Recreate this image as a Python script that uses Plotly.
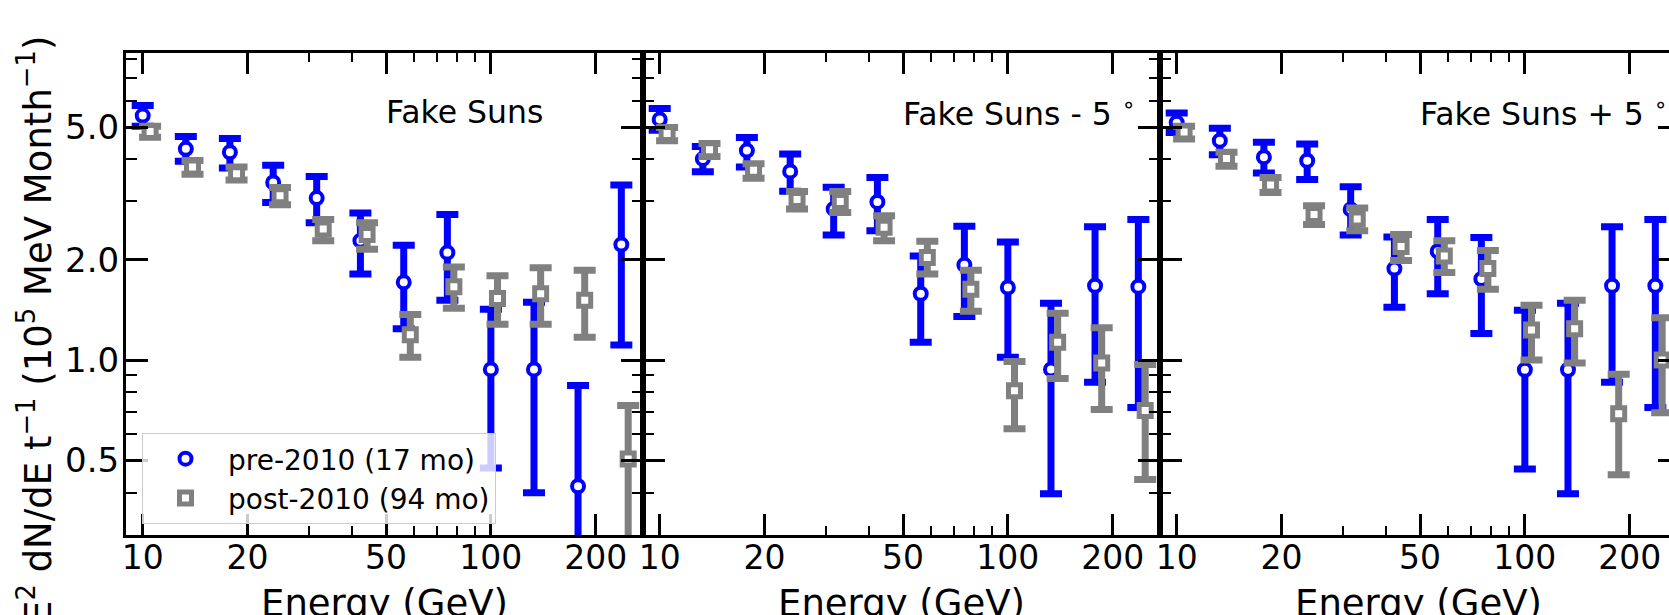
import plotly.graph_objects as go

# ---------------- data ----------------
E_pre = [10.0, 13.3, 17.8, 23.7, 31.6, 42.2, 56.2, 75.0, 100.0, 133.0, 178.0, 237.0]
E_post = [10.5, 13.9, 18.6, 24.8, 33.0, 44.1, 58.7, 78.3, 104.5, 139.0, 186.0, 248.0]

panel_titles = ["Fake Suns", "Fake Suns - 5 <sup>∘</sup>", "Fake Suns + 5 <sup>∘</sup>"]

# panel 1: Fake Suns
p1_pre = [5.41, 4.30, 4.20, 3.41, 3.06, 2.28, 1.71, 2.10, 0.937, 0.937, 0.418, 2.22]
p1_pre_hi = [5.80, 4.68, 4.62, 3.84, 3.55, 2.76, 2.21, 2.73, 1.42, 1.49, 0.838, 3.35]
p1_pre_lo = [5.03, 3.95, 3.77, 2.97, 2.58, 1.81, 1.24, 1.51, 0.474, 0.40, 0.15, 1.11]
p1_post = [4.85, 3.79, 3.62, 3.11, 2.47, 2.38, 1.19, 1.66, 1.53, 1.58, 1.51, 0.505]
p1_post_hi = [5.03, 3.97, 3.79, 3.29, 2.64, 2.58, 1.37, 1.90, 1.79, 1.89, 1.86, 0.73]
p1_post_lo = [4.66, 3.61, 3.47, 2.92, 2.28, 2.15, 1.02, 1.43, 1.28, 1.28, 1.17, 0.15]

# panel 2: Fake Suns - 5 deg
p2_pre = [5.27, 4.01, 4.25, 3.68, 2.84, 2.98, 1.58, 1.93, 1.65, 0.937, 1.67, 1.66]
p2_pre_hi = [5.68, 4.37, 4.65, 4.15, 3.30, 3.53, 2.05, 2.52, 2.26, 1.48, 2.51, 2.64]
p2_pre_lo = [4.89, 3.67, 3.79, 3.21, 2.37, 2.44, 1.13, 1.35, 1.02, 0.397, 0.857, 0.72]
p2_post = [4.78, 4.27, 3.71, 3.03, 2.99, 2.50, 2.03, 1.63, 0.808, 1.13, 0.98, 0.706]
p2_post_hi = [4.98, 4.46, 3.88, 3.20, 3.20, 2.71, 2.27, 1.86, 0.99, 1.38, 1.25, 0.97]
p2_post_lo = [4.55, 4.08, 3.51, 2.84, 2.77, 2.28, 1.81, 1.40, 0.622, 0.88, 0.71, 0.438]

# panel 3: Fake Suns + 5 deg
p3_pre = [5.15, 4.55, 4.06, 3.96, 2.83, 1.88, 2.12, 1.75, 0.935, 0.935, 1.67, 1.67]
p3_pre_hi = [5.51, 4.96, 4.50, 4.45, 3.31, 2.34, 2.64, 2.33, 1.41, 1.48, 2.51, 2.64]
p3_pre_lo = [4.81, 4.13, 3.64, 3.48, 2.37, 1.44, 1.58, 1.20, 0.471, 0.397, 0.857, 0.72]
p3_post = [4.83, 4.02, 3.35, 2.73, 2.65, 2.19, 2.05, 1.88, 1.23, 1.24, 0.69, 1.00]
p3_post_hi = [5.03, 4.20, 3.53, 2.90, 2.86, 2.38, 2.28, 2.13, 1.46, 1.51, 0.906, 1.34]
p3_post_lo = [4.60, 3.81, 3.18, 2.55, 2.44, 1.99, 1.83, 1.63, 1.00, 0.98, 0.453, 0.695]

x_tickvals = [10, 20, 50, 100, 200]
x_ticktext = ["10", "20", "50", "100", "200"]
x_minor = [30, 40, 60, 70, 80, 90]
y_tickvals = [0.5, 1.0, 2.0, 5.0]
y_ticktext = ["0.5", "1.0", "2.0", "5.0"]
y_minor = [0.3, 0.4, 0.6, 0.7, 0.8, 0.9, 3, 4, 6, 7, 8]

series_names = ["pre-2010 (17 mo)", "post-2010 (94 mo)"]
x_title = "Energy (GeV)"
y_title = "E<sup>2</sup> dN/dE t<sup>−1</sup> (10<sup>5</sup> MeV Month<sup>−1</sup>)"

# ---------------- figure ----------------
W, H = 1669, 615
ML, MR, MT, MB = 126, 0, 53, 80
PW = W - ML - MR
PH = H - MT - MB
panel_px = 517.0
d1 = panel_px / PW
domains = [[0, d1], [d1, 2 * d1], [2 * d1, 1.0]]
dec_px = panel_px / (2.437 - 0.952)
x_ranges = [[0.952, 2.437], [0.952, 2.437], [0.952, 0.952 + (PW - 2 * panel_px) / dec_px]]
y_range = [-0.525, 0.921]

BLUE = "#0000ff"
GRAY = "#808080"
FONT = "DejaVu Sans"

panels = [
    (p1_pre, p1_pre_hi, p1_pre_lo, p1_post, p1_post_hi, p1_post_lo),
    (p2_pre, p2_pre_hi, p2_pre_lo, p2_post, p2_post_hi, p2_post_lo),
    (p3_pre, p3_pre_hi, p3_pre_lo, p3_post, p3_post_hi, p3_post_lo),
]

fig = go.Figure()
for i, (pre, pre_hi, pre_lo, post, post_hi, post_lo) in enumerate(panels):
    xa = "x" if i == 0 else f"x{i+1}"
    ya = "y" if i == 0 else f"y{i+1}"
    fig.add_trace(go.Scatter(
        x=E_pre, y=pre, xaxis=xa, yaxis=ya, mode="markers",
        name=series_names[0], showlegend=(i == 0),
        marker=dict(symbol="circle", size=12, color="white",
                    line=dict(color=BLUE, width=4)),
        error_y=dict(type="data", symmetric=False,
                     array=[h - v for h, v in zip(pre_hi, pre)],
                     arrayminus=[v - l for v, l in zip(pre, pre_lo)],
                     color=BLUE, thickness=7, width=11),
    ))
    fig.add_trace(go.Scatter(
        x=E_post, y=post, xaxis=xa, yaxis=ya, mode="markers",
        name=series_names[1], showlegend=(i == 0),
        marker=dict(symbol="square", size=12, color="white",
                    line=dict(color=GRAY, width=5)),
        error_y=dict(type="data", symmetric=False,
                     array=[h - v for h, v in zip(post_hi, post)],
                     arrayminus=[v - l for v, l in zip(post, post_lo)],
                     color=GRAY, thickness=7, width=11),
    ))

# helper trace for the clipped right-hand tick marks of the last panel
fig.add_trace(go.Scatter(x=[E_pre[0]], y=[p3_pre[0]], xaxis="x3", yaxis="y4",
                         mode="markers", marker=dict(opacity=0), showlegend=False,
                         hoverinfo="skip"))

layout = dict(
    width=W, height=H,
    margin=dict(l=ML, r=MR, t=MT, b=MB, pad=0, autoexpand=False),
    plot_bgcolor="white", paper_bgcolor="white",
    font=dict(family=FONT, color="black"),
    showlegend=True,
    legend=dict(x=16 / PW, y=(H - MB - 433) / PH, xanchor="left", yanchor="top",
                bgcolor="rgba(255,255,255,0.8)", bordercolor="#cccccc", borderwidth=1,
                font=dict(family=FONT, size=28, color="black"),
                itemwidth=75, tracegroupgap=0),
)

for i in range(3):
    key = "xaxis" if i == 0 else f"xaxis{i+1}"
    yname = "y" if i == 0 else f"y{i+1}"
    layout[key] = dict(
        domain=domains[i], anchor=yname, type="log", range=x_ranges[i],
        automargin=False,
        tickmode="array", tickvals=x_tickvals, ticktext=x_ticktext,
        ticks="inside", ticklen=21, tickwidth=3, tickcolor="black",
        showline=True, linewidth=3, linecolor="black", mirror="ticks",
        showgrid=False, zeroline=False,
        tickfont=dict(family=FONT, size=33, color="black"),
        ticklabelstandoff=-9,
        minor=dict(tickmode="array", tickvals=x_minor, ticks="inside", ticklen=9,
                   tickwidth=2, tickcolor="black", showgrid=False),
    )
    ykey = "yaxis" if i == 0 else f"yaxis{i+1}"
    xname = "x" if i == 0 else f"x{i+1}"
    layout[ykey] = dict(
        anchor=xname, type="log", range=y_range, domain=[0, 1],
        automargin=False,
        tickmode="array", tickvals=y_tickvals, ticktext=y_ticktext,
        showticklabels=(i == 0),
        ticks="inside", ticklen=22, tickwidth=3, tickcolor="black",
        showline=True, linewidth=3, linecolor="black",
        mirror=("ticks" if i < 2 else False),
        showgrid=False, zeroline=False,
        tickfont=dict(family=FONT, size=34, color="black"),
        ticklabelstandoff=-3,
        minor=dict(tickmode="array", tickvals=y_minor, ticks="inside", ticklen=11,
                   tickwidth=2, tickcolor="black", showgrid=False),
    )

layout["yaxis4"] = dict(
    overlaying="y3", anchor="x3", side="right", type="log", range=y_range,
    automargin=False,
    tickmode="array", tickvals=y_tickvals, showticklabels=False,
    ticks="inside", ticklen=11, tickwidth=3, tickcolor="black",
    showline=False, showgrid=False, zeroline=False,
)

annotations = []
for i in range(3):
    annotations.append(dict(
        text=panel_titles[i], xref="paper", yref="paper",
        x=domains[i][0] + 258 / PW, y=(H - MB - 112) / PH,
        xanchor="left", yanchor="middle", showarrow=False,
        font=dict(family=FONT, size=31.5, color="black"),
    ))
    annotations.append(dict(
        text=x_title, xref="paper", yref="paper",
        x=domains[i][0] + panel_px / 2 / PW, y=-(603 - (H - MB)) / PH,
        xanchor="center", yanchor="middle", showarrow=False,
        font=dict(family=FONT, size=37, color="black"),
    ))
annotations.append(dict(
    text=y_title,
    xref="paper", yref="paper", x=(35 - ML) / PW, y=(H - MB - 330) / PH,
    xanchor="center", yanchor="middle", textangle=-90, showarrow=False,
    font=dict(family=FONT, size=37, color="black"),
))
layout["annotations"] = annotations

fig.update_layout(**layout)
fig.write_html("out.html", config={"displayModeBar": False},
               post_script="document.body.style.margin='0';")
